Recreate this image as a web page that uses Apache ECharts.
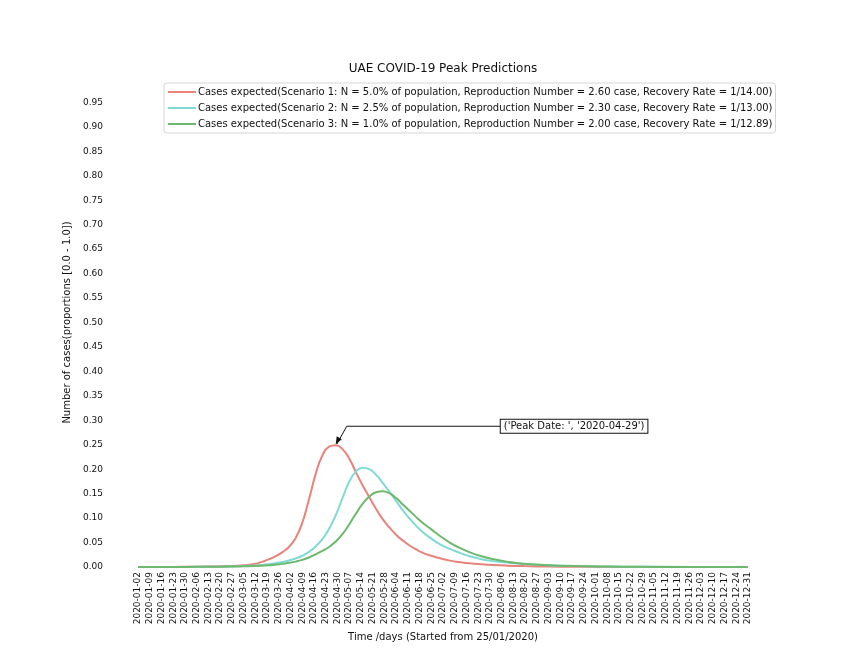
<!DOCTYPE html>
<html>
<head>
<meta charset="utf-8">
<title>UAE COVID-19 Peak Predictions</title>
<script src="https://cdn.jsdelivr.net/npm/echarts@6/dist/echarts.min.js"></script>
<style>
  html, body { margin: 0; padding: 0; background: #fff; }
  #chart { width: 864px; height: 648px; }
</style>
</head>
<body>
<div id="chart"></div>
<script>
// Day offsets from 2020-01-02 (x axis)
var days = [0, 14, 28, 42, 56, 63, 70, 74, 78, 82, 86, 90, 94, 98, 102, 106, 110, 114, 118, 122,
            126, 130, 134, 138, 142, 146, 150, 154, 158, 162, 166, 170, 175, 180, 186, 192, 198, 205,
            212, 220, 230, 245, 260, 280, 300, 330, 364];

var scenario1 = [0, 0.0001, 0.0003, 0.0008, 0.002, 0.0036, 0.0065, 0.0105, 0.0155, 0.022, 0.03, 0.041,
                 0.059, 0.09, 0.138, 0.19, 0.228, 0.246, 0.249, 0.241, 0.222, 0.194, 0.167, 0.143,
                 0.119, 0.098, 0.081, 0.066, 0.054, 0.044, 0.036, 0.029, 0.023, 0.018, 0.013, 0.01,
                 0.0075, 0.0055, 0.004, 0.0028, 0.0018, 0.0009, 0.0005, 0.0002, 0.0001, 0, 0];

var scenario2 = [0, 0.0001, 0.0002, 0.0005, 0.0012, 0.002, 0.0032, 0.0042, 0.0057, 0.0078, 0.0102, 0.0133,
                 0.0175, 0.023, 0.031, 0.042, 0.057, 0.078, 0.106, 0.141, 0.174, 0.195, 0.203, 0.2,
                 0.189, 0.172, 0.154, 0.135, 0.116, 0.099, 0.084, 0.071, 0.058, 0.047, 0.037, 0.029,
                 0.022, 0.016, 0.012, 0.009, 0.0062, 0.0037, 0.0022, 0.0011, 0.0005, 0.0002, 0];

var scenario3 = [0, 0.0001, 0.0002, 0.0004, 0.0009, 0.0014, 0.002, 0.0027, 0.0036, 0.0048, 0.0064, 0.0085,
                 0.011, 0.0145, 0.0195, 0.026, 0.033, 0.041, 0.052, 0.067, 0.087, 0.109, 0.129, 0.144,
                 0.153, 0.155, 0.151, 0.141, 0.128, 0.115, 0.102, 0.09, 0.077, 0.064, 0.05, 0.039,
                 0.03, 0.022, 0.016, 0.011, 0.0068, 0.0035, 0.0018, 0.0008, 0.0003, 0.0001, 0];

var seriesNames = [
    'Cases expected(Scenario 1: N = 5.0% of population, Reproduction Number = 2.60 case, Recovery Rate = 1/14.00)',
    'Cases expected(Scenario 2: N = 2.5% of population, Reproduction Number = 2.30 case, Recovery Rate = 1/13.00)',
    'Cases expected(Scenario 3: N = 1.0% of population, Reproduction Number = 2.00 case, Recovery Rate = 1/12.89)'
];
var seriesColors = ['#e8837c', '#7fdad5', '#6db86d'];

var startDate = '2020-01-02';
var peakDay = 118;
var peakValue = 0.249;
var peakLabel = "('Peak Date: ', '2020-04-29')";

var fontFamily = 'DejaVu Sans, sans-serif';

// day offset -> yyyy-mm-dd
var dayToDate = function(d) {
    var t = new Date(startDate + 'T00:00:00Z');
    t.setUTCDate(t.getUTCDate() + d);
    return t.toISOString().slice(0, 10);
};

var pairs = function(values) {
    return days.map(function(d, i) { return [d, values[i]]; });
};

var chart = echarts.init(document.getElementById('chart'));

var allSeries = [scenario1, scenario2, scenario3].map(function(values, i) {
    return {
        name: seriesNames[i],
        type: 'line',
        smooth: 0.5,
        symbol: 'none',
        showSymbol: false,
        lineStyle: { width: 2, color: seriesColors[i] },
        itemStyle: { color: seriesColors[i] },
        data: pairs(values)
    };
});

var options = {
    animation: false,
    backgroundColor: '#fff',
    textStyle: { fontFamily: fontFamily, color: '#222' },
    title: {
        text: 'UAE COVID-19 Peak Predictions',
        left: 438,
        textAlign: 'center',
        top: 58,
        textStyle: { fontSize: 12, fontWeight: 'normal', color: '#111', fontFamily: fontFamily }
    },
    legend: {
        orient: 'vertical',
        left: 164,
        top: 83,
        padding: [4, 3, 4, 4],
        itemGap: 6,
        itemWidth: 28,
        itemHeight: 2,
        icon: 'rect',
        borderColor: '#d6d6d6',
        borderWidth: 1,
        borderRadius: 3,
        textStyle: { fontSize: 10, color: '#111', fontFamily: fontFamily, padding: [0, 0, 0, -3] },
        data: seriesNames
    },
    grid: { left: 138, right: 116, top: 78, bottom: 81, containLabel: false, outerBoundsMode: 'none' },
    xAxis: {
        type: 'value',
        min: 0,
        max: 364,
        interval: 7,
        name: 'Time /days (Started from 25/01/2020)',
        nameLocation: 'middle',
        nameGap: 65,
        nameTextStyle: { fontSize: 10, color: '#111' },
        axisLine: { show: false },
        axisTick: { show: false },
        splitLine: { show: false },
        axisLabel: {
            rotate: 90,
            margin: 5,
            fontSize: 9,
            color: '#111',
            formatter: function(v) { return dayToDate(v); }
        }
    },
    yAxis: {
        type: 'value',
        min: 0,
        max: 1,
        interval: 0.05,
        name: 'Number of cases(proportions [0.0 - 1.0])',
        nameLocation: 'middle',
        nameGap: 48,
        nameTextStyle: { fontSize: 10, color: '#111' },
        axisLine: { show: false },
        axisTick: { show: false },
        splitLine: { show: false },
        axisLabel: {
            margin: 35,
            fontSize: 9,
            color: '#111',
            formatter: function(v) { return v >= 0.999 ? '' : v.toFixed(2); }
        }
    },
    series: allSeries
};

chart.setOption(options);

// Peak annotation: arrow from the label box to the scenario 1 peak
var p = chart.convertToPixel({ seriesIndex: 0 }, [peakDay, peakValue]);
var ax = p[0], ay = p[1] - 1;
var elbowX = ax + 11, elbowY = ay - 18;
var boxX = ax + 165;

chart.setOption({
    graphic: [
        {
            type: 'polyline',
            shape: { points: [[boxX, elbowY], [elbowX, elbowY], [ax + 1, ay]] },
            style: { stroke: '#111', lineWidth: 1, fill: null }
        },
        {
            type: 'polygon',
            shape: { points: [[ax, ay], [ax + 1, ay - 8], [ax + 6, ay - 5]] },
            style: { fill: '#111' }
        },
        {
            type: 'text',
            x: boxX,
            y: elbowY,
            style: {
                text: peakLabel,
                fontSize: 10,
                fontFamily: fontFamily,
                fill: '#111',
                verticalAlign: 'middle',
                align: 'left',
                backgroundColor: '#fff',
                borderColor: '#111',
                borderWidth: 1,
                padding: [2, 3, 1, 3]
            }
        }
    ]
});
</script>
</body>
</html>
